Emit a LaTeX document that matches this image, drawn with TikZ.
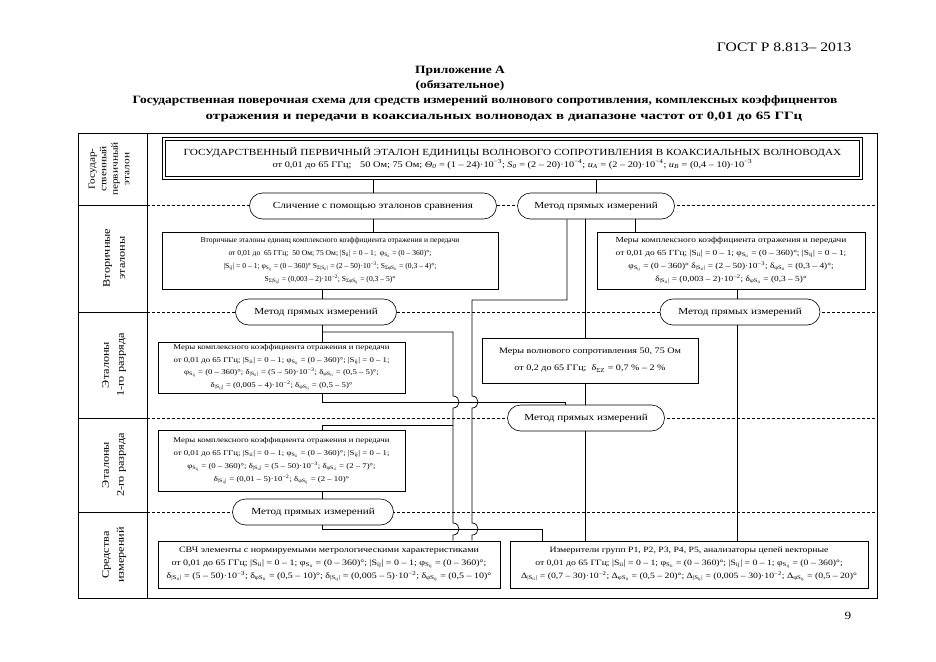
\documentclass[tikz,border=0pt]{standalone}
\usepackage{fontspec}
\setmainfont{Liberation Serif}
\newfontfamily\wide{Liberation Serif}[FakeStretch=1.2]
\newfontfamily\wider{Liberation Serif}[FakeStretch=1.34]
\newcommand{\lsub}[1]{\textsubscript{#1}}
\newcommand{\lsup}[1]{\textsuperscript{#1}}
\newcommand{\Sii}{S\lsub{ii}}
\newcommand{\Sij}{S\lsub{ij}}
\newcommand{\fs}[2]{\fontsize{#1}{#2}\selectfont}
\begin{document}
\begin{tikzpicture}[x=1pt,y=-1pt,
  box/.style={draw, line width=0.6pt, fill=white, align=center, inner sep=0pt},
  oval/.style={draw, line width=0.6pt, rounded corners=13pt, minimum height=26pt, fill=white,
    inner sep=0pt, font=\wide\fs{9.3}{12}},
  lbl/.style={rotate=90, align=center, font=\wide\fs{10.2}{15}},
  conn/.style={line width=0.7pt},
  sep/.style={line width=0.5pt, dash pattern=on 3pt off 2pt},
  title/.style={font=\wide\bfseries\fs{11.2}{12}}
]
\useasboundingbox (0,0) rectangle (936,661);

% header texts
\node[anchor=east, font=\wide\fs{13}{14}] (hdr) at (855,47) {ГОСТ Р 8.813– 2013};
\node[title] (t1) at (460,71) {Приложение А};
\node[title] (t2) at (460,86) {(обязательное)};
\node[title] (t3) at (485,101) {Государственная поверочная схема для средств измерений волнового сопротивления, комплексных коэффицнентов};
\node[title, font=\wider\bfseries\fs{11.2}{12}] (t4) at (504,117) {отражения и передачи в коаксиальных волноводах в диапазоне частот от 0,01 до 65 ГГц};
\node[font=\wide\fs{11}{13}] (pg) at (848,616) {9};

% frame and row separators
\draw[line width=0.7pt] (78,133) rectangle (877,598);
\draw[line width=0.7pt] (147,133) -- (147,598);
\foreach \yy in {205,312,418,512}{
  \draw[line width=0.7pt] (78,\yy) -- (147,\yy);
  \draw[sep] (147,\yy) -- (877,\yy);
}

% row labels
\node[lbl, font=\wide\fs{9.4}{11.5}] (l1) at (109,169) {Государ-\\ственный\\первичный\\эталон};
\node[lbl] (l2) at (114,258) {Вторичные\\эталоны};
\node[lbl] (l3) at (114,365) {Эталоны\\1-го разряда};
\node[lbl] (l4) at (114,465) {Эталоны\\2-го разряда};
\node[lbl] (l5) at (114,555) {Средства\\измерений};

% top box
\node[draw, line width=1.1pt, double, double distance=1.4pt, fill=white, align=center,
  minimum width=697pt, minimum height=39pt, inner sep=0pt] (top) at (512.5,158.5)
  {{\wide\fs{9.4}{14}ГОСУДАРСТВЕННЫЙ ПЕРВИЧНЫЙ ЭТАЛОН ЕДИНИЦЫ ВОЛНОВОГО СОПРОТИВЛЕНИЯ В КОАКСИАЛЬНЫХ ВОЛНОВОДАХ}\\
   {\wide\fs{8.6}{14}от 0,01 до 65 ГГц;\quad 50 Ом; 75 Ом; \textit{Θ}\lsub{\textit{0}} = (1 – 24)·10\lsup{−3}; \textit{S}\lsub{\textit{0}} = (2 – 20)·10\lsup{−4}; \textit{u}\lsub{\textit{A}} = (2 – 20)·10\lsup{−4}; \textit{u}\lsub{\textit{B}} = (0,4 – 10)·10\lsup{−3}}};

% ovals
\node[oval, minimum width=247pt] (e1) at (373,206) {Сличение с помощью эталонов сравнения};
\node[oval, minimum width=157pt] (e2) at (596,206) {Метод прямых измерений};
\node[oval, minimum width=161pt] (e3) at (316,312) {Метод прямых измерений};
\node[oval, minimum width=160pt] (e4) at (740,312) {Метод прямых измерений};
\node[oval, minimum width=157pt] (e5) at (586,418) {Метод прямых измерений};
\node[oval, minimum width=161pt] (e6) at (313,512) {Метод прямых измерений};

% boxes
\node[box, font=\fs{7.6}{13}, minimum width=336pt, minimum height=57pt] (b1) at (330,260.5)
 {Вторичные эталоны единиц комплексного коэффициента отражения и передачи\\
  от 0,01 до~ 65 ГГц;~ 50 Ом; 75 Ом; |\Sii| = 0 – 1;~ φ\lsub{\Sii} = (0 – 360)°;\\
  |\Sij| = 0 – 1; φ\lsub{\Sij} = (0 – 360)° S\lsub{Σ|\Sii|} = (2 – 50)·10\lsup{−3}; S\lsub{Σφ\Sii} = (0,3 – 4)°;\\
  S\lsub{Σ|\Sij|} = (0,003 – 2)·10\lsup{−2}; S\lsub{Σφ\Sij} = (0,3 – 5)°};
\node[box, font=\wide\fs{7.8}{13}, minimum width=268pt, minimum height=57pt] (b2) at (731,260.5)
 {Меры комплексного коэффициента отражения и передачи\\
  от 0,01 до 65 ГГц; |\Sii| = 0 – 1; φ\lsub{\Sii} = (0 – 360)°; |\Sij| = 0 – 1;\\
  φ\lsub{\Sij} = (0 – 360)° δ\lsub{|\Sii|} = (2 – 50)·10\lsup{−3}; δ\lsub{φ\Sii} = (0,3 – 4)°;\\
  δ\lsub{|\Sii|} = (0,003 – 2)·10\lsup{−2}; δ\lsub{φ\Sii} = (0,3 – 5)°};
\node[box, font=\wide\fs{7.3}{12.5}, minimum width=247pt, minimum height=51pt] (b3) at (281.5,367.5)
 {Меры комплексного коэффициента отражения и передачи\\
  от 0,01 до 65 ГГц; |\Sii| = 0 – 1; φ\lsub{\Sii} = (0 – 360)°; |\Sij| = 0 – 1;\\
  φ\lsub{\Sij} = (0 – 360)°; δ\lsub{|\Sii|} = (5 – 50)·10\lsup{−3}; δ\lsub{φ\Sii} = (0,5 – 5)°;\\
  δ\lsub{|\Sij|} = (0,005 – 4)·10\lsup{−2}; δ\lsub{φ\Sij} = (0,5 – 5)°};
\node[box, font=\wide\fs{8.4}{17}, minimum width=216pt, minimum height=45pt] (b4) at (590,360.5)
 {Меры волнового сопротивления 50, 75 Ом\\
  от 0,2 до 65 ГГц;~ δ\lsub{ΣZ} = 0,7 \% – 2 \%};
\node[box, font=\wide\fs{7.3}{13}, minimum width=247pt, minimum height=61pt] (b5) at (281.5,460.5)
 {Меры комплексного коэффициента отражения и передачи\\
  от 0,01 до 65 ГГц; |\Sii| = 0 – 1; φ\lsub{\Sii} = (0 – 360)°; |\Sij| = 0 – 1;\\
  φ\lsub{\Sij} = (0 – 360)°; δ\lsub{|\Sii|} = (5 – 50)·10\lsup{−3}; δ\lsub{φ\Sii} = (2 – 7)°;\\
  δ\lsub{|\Sij|} = (0,01 – 5)·10\lsup{−2}; δ\lsub{φ\Sij} = (2 – 10)°};
\node[box, font=\wide\fs{8.3}{13}, minimum width=342pt, minimum height=47pt] (b6) at (329,564.5)
 {СВЧ элементы с нормируемыми метрологическими характеристиками\\
  от 0,01 до 65 ГГц; |\Sii| = 0 – 1; φ\lsub{\Sii} = (0 – 360)°; |\Sij| = 0 – 1; φ\lsub{\Sij} = (0 – 360)°;\\
  δ\lsub{|\Sii|} = (5 – 50)·10\lsup{−3}; δ\lsub{φ\Sii} = (0,5 – 10)°; δ\lsub{|\Sij|} = (0,005 – 5)·10\lsup{−2}; δ\lsub{φ\Sij} = (0,5 – 10)°};
\node[box, font=\wide\fs{8.1}{13}, minimum width=358pt, minimum height=47pt] (b7) at (689,564.5)
 {Измерители групп Р1, Р2, Р3, Р4, Р5, анализаторы цепей векторные\\
  от 0,01 до 65 ГГц; |\Sii| = 0 – 1; φ\lsub{\Sii} = (0 – 360)°; |\Sij| = 0 – 1; φ\lsub{\Sij} = (0 – 360)°;\\
  Δ\lsub{|\Sii|} = (0,7 – 30)·10\lsup{−2}; Δ\lsub{φ\Sii} = (0,5 – 20)°; Δ\lsub{|\Sij|} = (0,005 – 30)·10\lsup{−2}; Δ\lsub{φ\Sij} = (0,5 – 20)°};

% routing coordinates
\coordinate (xa) at (322,0);
\coordinate (xb) at (453,0);
\coordinate (xc) at (472,0);
\coordinate (xd) at (567,0);
\coordinate (xe) at (585,0);
\coordinate (xf) at (635,0);
\coordinate (xg) at (737,0);
\coordinate (xh) at (542,0);
\coordinate (xk) at (565,0);
\coordinate (ya) at (0,300);
\coordinate (yb) at (0,332);
\coordinate (yc) at (0,402);
\coordinate (yd) at (0,425);
\coordinate (ye) at (0,529);

% connectors
\draw[conn] (top.south -| e1.north) -- (e1.north);
\draw[conn] (top.south -| e2.north) -- (e2.north);
\draw[conn] (e1.south) -- (b1.north -| e1.south);
\draw[conn] (b1.south -| xa) -- (e3.north -| xa);
\draw[conn] (e2.south -| xf) -- (b2.north -| xf);
\draw[conn] (b2.south -| xg) -- (e4.north -| xg);
\draw[conn] (e2.south -| xe) -- (b4.north -| xe);
\draw[conn] (b4.south -| xe) -- (e5.north -| xe);
\draw[conn] (e5.south -| xe) -- (b7.north -| xe);
\draw[conn] (e4.south -| xg) -- (b7.north -| xg);
% from e2 down to b6 with jumps
\draw[conn] (e2.south -| xd) -- (xd |- ya) -- (xc |- ya) -- (472,396)
  .. controls (480,396) and (480,408) .. (472,408) -- (472,523)
  .. controls (480,523) and (480,535) .. (472,535) -- (b6.north -| xc);
% from e3 down to b3 and b6 with jumps
\draw[conn] (e3.south -| xa) -- (b3.north -| xa);
\draw[conn] (xa |- yb) -- (xb |- yb) -- (453,396)
  .. controls (461,396) and (461,408) .. (453,408) -- (453,523)
  .. controls (461,523) and (461,535) .. (453,535) -- (b6.north -| xb);
\draw[conn] (xb |- yd) -- (xa |- yd) -- (b5.north -| xa);
% b3 to e5
\draw[conn] (b3.south -| xa) -- (xa |- yc) -- (xk |- yc) -- (e5.north -| xk);
% b5 to e6
\draw[conn] (b5.south -| xa) -- (e6.north -| xa);
% e6 to b7
\draw[conn] (e6.south -| xa) -- (xa |- ye) -- (xh |- ye) -- (b7.north -| xh);
\end{tikzpicture}
\end{document}
